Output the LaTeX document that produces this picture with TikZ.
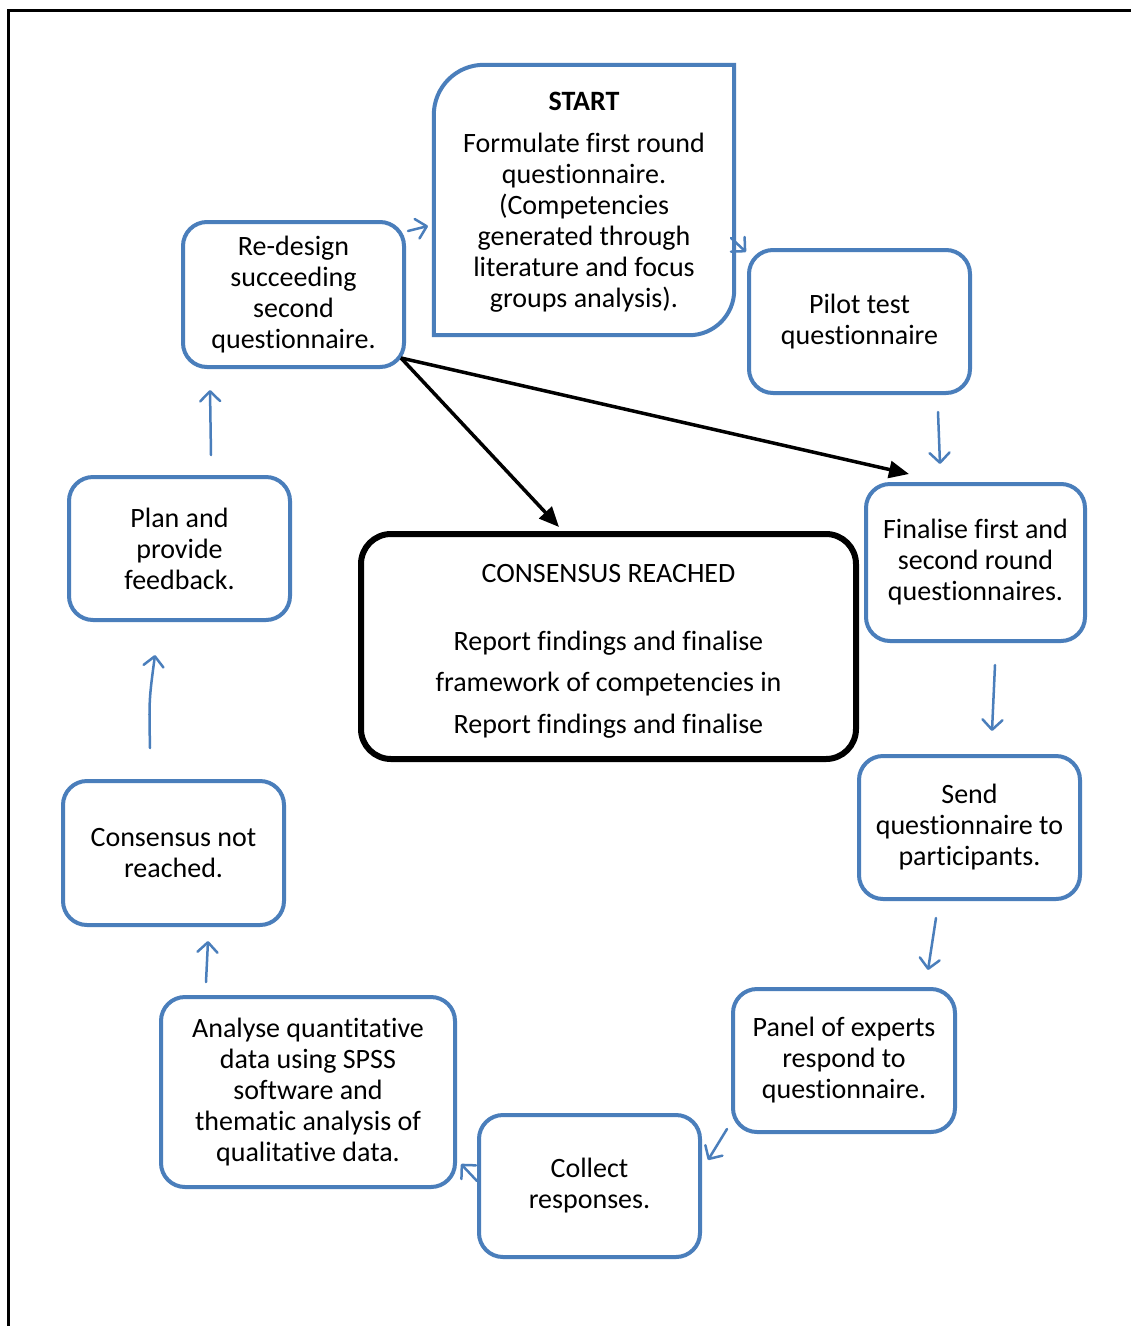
\documentclass[tikz,border=0pt]{standalone}
\usepackage{fontspec}
\setmainfont[Ligatures=NoCommon]{Carlito}
\usetikzlibrary{arrows.meta,calc}
\definecolor{boxblue}{HTML}{4A7EBB}
\begin{document}
\begin{tikzpicture}[x=1pt,y=-1pt,
  txt/.style={align=center,font=\fontsize{28}{31}\selectfont,inner sep=0pt},
  stepbox/.style={txt,draw=boxblue,line width=4pt,rounded corners=24pt},
  finalbox/.style={draw=black,line width=6pt,rounded corners=30pt,inner sep=0pt},
  flow/.style={draw=boxblue,line width=2.5pt,line cap=round,
    -{Straight Barb[length=10pt,width=20pt,round]}},
  branch/.style={draw=black,line width=3.5pt,
    -{Triangle[length=20pt,width=17pt]}},
  frame/.style={draw=black,line width=3pt}]
\useasboundingbox (0,0) rectangle (1131,1326);
\fill[white] (0,0) rectangle (1131,1326);
% page frame
\draw[frame] (8,1326) -- (8,10) -- (1131,10);

% start step: rounded at top left and bottom right only
\node[minimum width=300pt,minimum height=270pt,inner sep=0pt] (start) at (584,200) {};
\node[txt] (starttext) at (584,202.5)
  {\textbf{START}\\[11pt]Formulate first round\\questionnaire.\\(Competencies\\generated through\\literature and focus\\groups analysis).};
\draw[boxblue,line width=4pt]
  (start.south west) -- ($(start.north west)+(0,50)$)
  arc[start angle=180,end angle=90,radius=50pt] -- (start.north east)
  -- ($(start.south east)+(0,-45)$)
  arc[start angle=0,end angle=-90,radius=45pt] -- cycle;

% process steps
\node[stepbox,minimum width=221pt,minimum height=145pt] (redesign) at (293.5,294.5)
  {Re-design\\succeeding\\second\\questionnaire.};
\node[stepbox,minimum width=221pt,minimum height=143pt] (pilot) at (859.5,321.5)
  {Pilot test\\questionnaire};
\node[stepbox,minimum width=219pt,minimum height=157pt] (finalise) at (975.5,562.5)
  {Finalise first and\\second round\\questionnaires.};
\node[stepbox,minimum width=221pt,minimum height=143pt] (send) at (969.5,827.5)
  {Send\\questionnaire to\\participants.};
\node[stepbox,minimum width=222pt,minimum height=143pt] (panel) at (844,1060.5)
  {Panel of experts\\respond to\\questionnaire.};
\node[stepbox,minimum width=221pt,minimum height=142pt] (collect) at (589.5,1186)
  {Collect\\responses.};
\node[stepbox,minimum width=294pt,minimum height=190pt] (analyse) at (308,1092)
  {Analyse quantitative\\data using SPSS\\software and\\thematic analysis of\\qualitative data.};
\node[stepbox,minimum width=221pt,minimum height=144pt] (notreached) at (173.5,853)
  {Consensus not\\reached.};
\node[stepbox,minimum width=221pt,minimum height=143pt] (plan) at (179.5,548.5)
  {Plan and\\provide\\feedback.};

% outcome box
\node[finalbox,minimum width=495pt,minimum height=225pt] (reached) at (608.5,646.5) {};
\node[txt,font=\fontsize{28}{41.5}\selectfont] (reachedtext) at (608.5,651.5)
  {CONSENSUS REACHED\\[26pt]Report findings and finalise\\framework of competencies in\\Report findings and finalise};

% cycle arrows
\coordinate (a1) at (408,231); \coordinate (b1) at (428,226);
\coordinate (a2) at (731,238); \coordinate (b2) at (746,252);
\coordinate (a3) at (938,412); \coordinate (b3) at (940,464);
\coordinate (a4) at (995,665); \coordinate (b4) at (992,731);
\coordinate (a5) at (936,918); \coordinate (b5) at (928,970);
\coordinate (a6) at (727,1129); \coordinate (b6) at (708,1160);
\coordinate (a7) at (477,1181); \coordinate (b7) at (461,1164);
\coordinate (a8) at (206,982); \coordinate (b8) at (208,941);
\coordinate (a9) at (150,748); \coordinate (b9) at (155,655);
\coordinate (a10) at (211,455); \coordinate (b10) at (210,390);
\draw[flow] (a1) -- (b1);
\draw[flow] (a2) -- (b2);
\draw[flow] (a3) -- (b3);
\draw[flow] (a4) -- (b4);
\draw[flow] (a5) -- (b5);
\draw[flow] (a6) -- (b6);
\draw[flow] (a7) -- (b7);
\draw[flow] (a8) -- (b8);
\draw[flow] (a9) .. controls (149,700) .. (b9);
\draw[flow] (a10) -- (b10);

% branches out of the redesign step
\coordinate (fork) at ($(redesign.south east)+(-5,-11)$);
\coordinate (toreached) at (559,527);
\coordinate (tofinal) at (909,474);
\draw[branch] (fork) -- (toreached);
\draw[branch] (fork) -- (tofinal);
\end{tikzpicture}
\end{document}
